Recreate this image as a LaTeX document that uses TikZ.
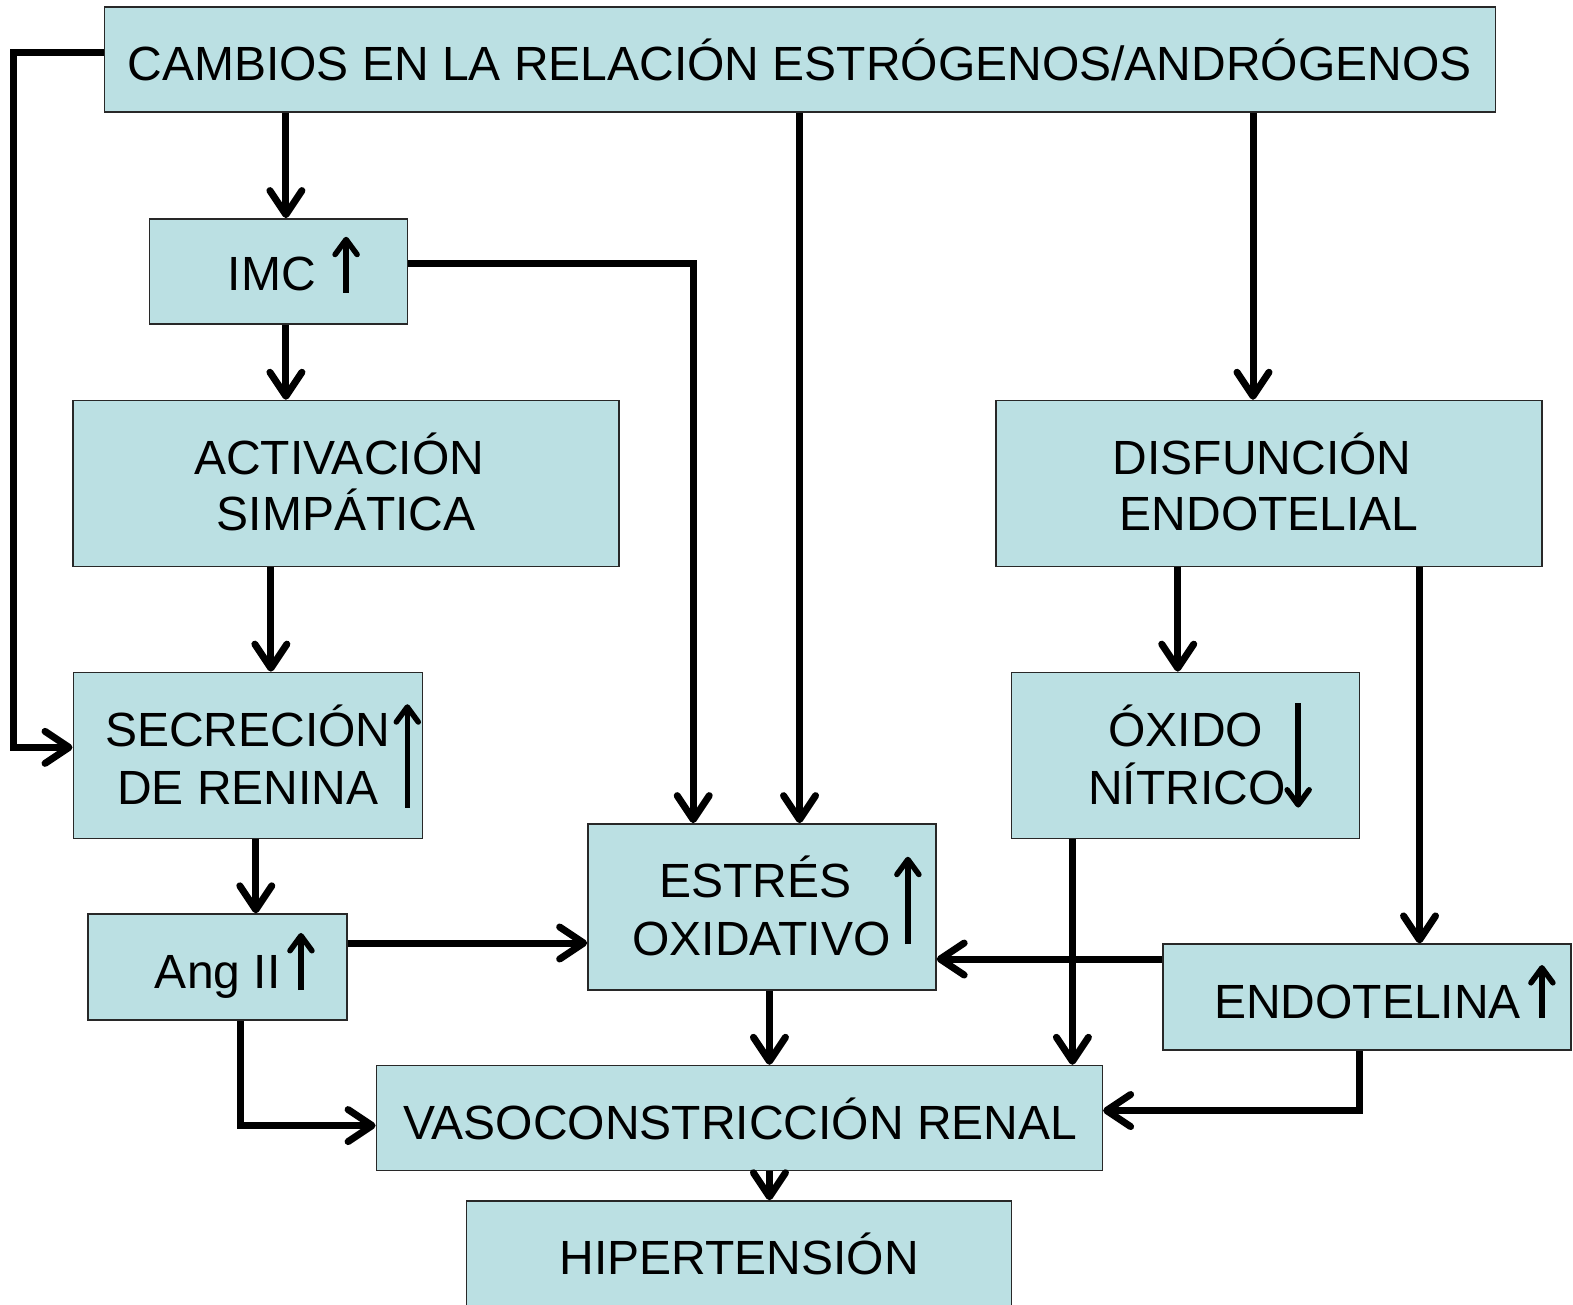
\documentclass[tikz,border=0pt]{standalone}
\usepackage{fontspec}
\setmainfont{Liberation Sans}
\usetikzlibrary{arrows.meta}
\definecolor{boxfill}{RGB}{187,224,227}
\definecolor{boxline}{RGB}{40,40,40}
\begin{document}
\begin{tikzpicture}[x=1.00319pt,y=-1.00319pt,
  box/.style={draw=boxline,line width=1.5pt,fill=boxfill,rectangle,inner sep=0pt},
  txt/.style={font=\fontsize{48}{57}\selectfont,inner sep=0pt,anchor=base},
  conn/.style={line width=7pt,-{Straight Barb[length=24pt,width=32pt,round]}},
  mini/.style={line width=5.5pt,-{Straight Barb[length=15pt,width=22pt,round]}}]
\useasboundingbox (0,0) rectangle (1568,1300);
\clip (0,0) rectangle (1568,1300);

% boxes
\node[box,minimum width=1391pt,minimum height=105pt] (top) at (797.5,59.5) {};
\node[box,minimum width=258pt,minimum height=105pt] (imc) at (277.5,270.5) {};
\node[box,minimum width=546pt,minimum height=166pt] (act) at (345,482) {};
\node[box,minimum width=546pt,minimum height=166pt] (dis) at (1265,482) {};
\node[box,minimum width=349pt,minimum height=166pt] (sec) at (247,753) {};
\node[box,minimum width=259pt,minimum height=106pt] (ang) at (217,964) {};
\node[box,minimum width=348pt,minimum height=166pt] (est) at (759.5,904) {};
\node[box,minimum width=348pt,minimum height=166pt] (oxi) at (1181.5,753) {};
\node[box,minimum width=408pt,minimum height=106pt] (endo) at (1362.5,994) {};
\node[box,minimum width=726pt,minimum height=105pt] (vaso) at (737,1114.5) {};
\node[box,minimum width=545pt,minimum height=110pt] (hip) at (736.5,1252) {};

% texts
\node[txt] (t1) at (797,80) {CAMBIOS EN LA RELACIÓN ESTRÓGENOS/ANDRÓGENOS};
\node[txt] (t2) at (271,290) {IMC};
\node[txt] (t3a) at (338,473) {ACTIVACIÓN};
\node[txt] (t3b) at (345,529) {SIMPÁTICA};
\node[txt] (t4a) at (1258,473) {DISFUNCIÓN};
\node[txt] (t4b) at (1265,529) {ENDOTELIAL};
\node[txt] (t5a) at (247,744) {SECRECIÓN};
\node[txt] (t5b) at (247,802) {DE RENINA};
\node[txt] (t6) at (217,985) {Ang II};
\node[txt] (t7a) at (753,895) {ESTRÉS};
\node[txt] (t7b) at (759,952) {OXIDATIVO};
\node[txt] (t8a) at (1182,744) {ÓXIDO};
\node[txt] (t8b) at (1183,802) {NÍTRICO};
\node[txt] (t9) at (1363,1015) {ENDOTELINA};
\node[txt] (t10) at (738,1136) {VASOCONSTRICCIÓN RENAL};
\node[txt] (t11) at (737,1270) {HIPERTENSIÓN};

% small arrows in boxes
\draw[mini] (345,292) -- (345,236);
\draw[mini] (406,805) -- (406,702);
\draw[mini] (1294,701) -- (1294,805);
\draw[mini] (905,941) -- (905,854);
\draw[mini] (300,987) -- (300,930);
\draw[mini] (1537,1015) -- (1537,962);

% connectors
\draw[conn] (top.west |- 0,52) -- (13,52) -- (13,745) -- (sec.west |- 0,745);
\draw[conn] (285,0 |- top.south) -- (285,0 |- imc.north);
\draw[conn] (797,0 |- top.south) -- (797,0 |- est.north);
\draw[conn] (1249,0 |- top.south) -- (1249,0 |- dis.north);
\draw[conn] (imc.east |- 0,263) -- (691,263) -- (691,0 |- est.north);
\draw[conn] (285,0 |- imc.south) -- (285,0 |- act.north);
\draw[conn] (270,0 |- act.south) -- (270,0 |- sec.north);
\draw[conn] (255,0 |- sec.south) -- (255,0 |- ang.north);
\draw[conn] (ang.east |- 0,940) -- (est.west |- 0,940);
\draw[conn] (240,0 |- ang.south) -- (240,1122) -- (vaso.west |- 0,1122);
\draw[conn] (767,0 |- est.south) -- (767,0 |- vaso.north);
\draw[conn] (1174,0 |- dis.south) -- (1174,0 |- oxi.north);
\draw[conn] (1415,0 |- dis.south) -- (1415,0 |- endo.north);
\draw[conn] (1069,0 |- oxi.south) -- (1069,0 |- vaso.north);
\draw[conn] (endo.west |- 0,956) -- (est.east |- 0,956);
\draw[conn] (1355,0 |- endo.south) -- (1355,1107) -- (vaso.east |- 0,1107);
\draw[conn] (767,0 |- vaso.south) -- (767,0 |- hip.north);
\end{tikzpicture}
\end{document}
